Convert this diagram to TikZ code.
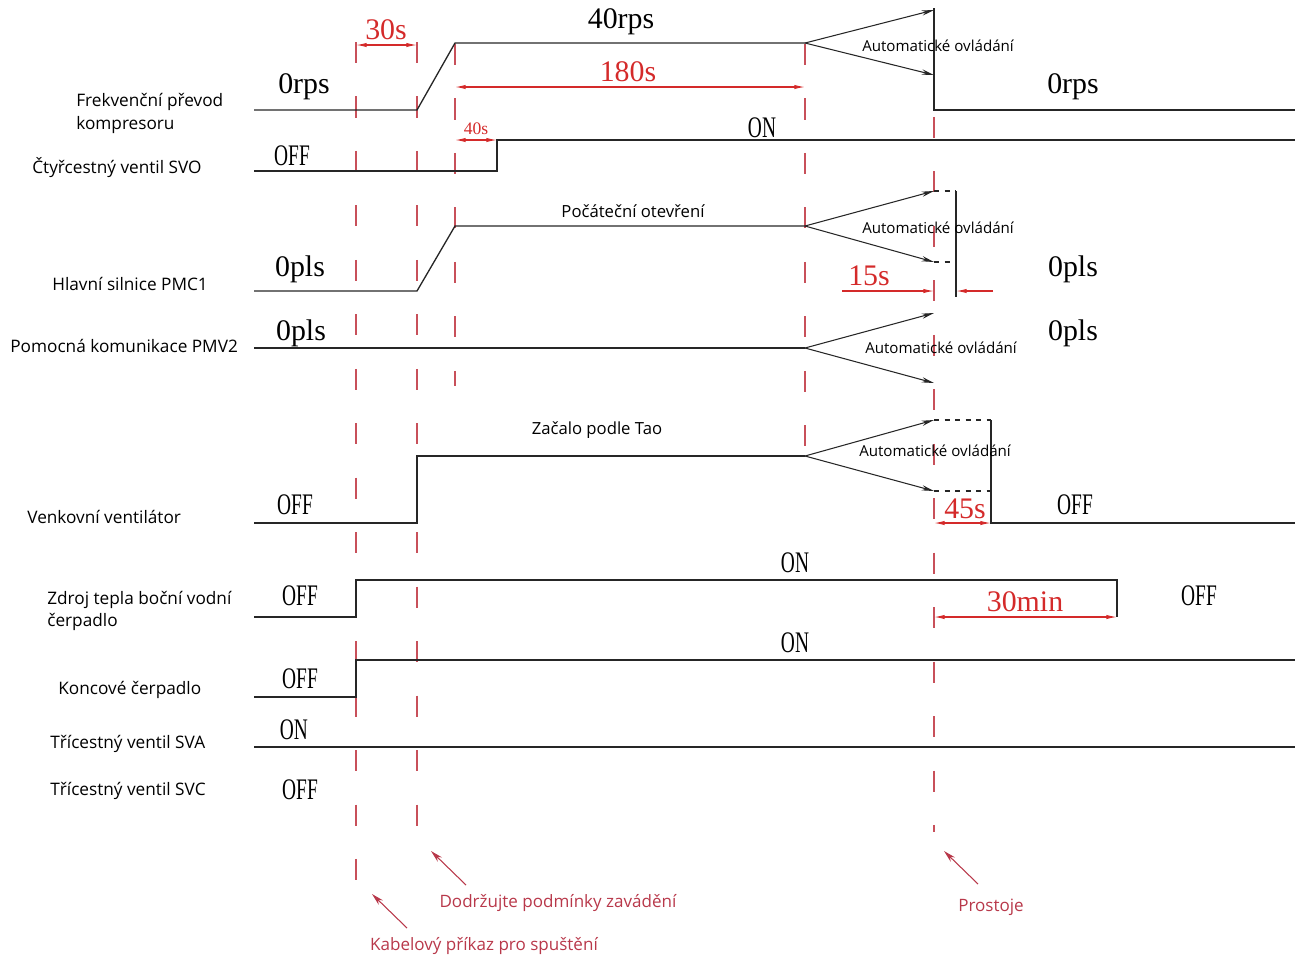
\documentclass[tikz,border=0pt]{standalone}
\usepackage{fontspec}
\setmainfont{Liberation Serif}
\newfontfamily\labfont{Open Sans}
\usetikzlibrary{arrows.meta}
\definecolor{guidered}{HTML}{C8505A}
\definecolor{dimred}{HTML}{D42A2A}
\definecolor{annred}{HTML}{B8384A}
\newcommand\cp[1]{\scalebox{0.65}[1]{#1}}
\begin{document}
\begin{tikzpicture}[x=0.02cm,y=-0.02cm,
  sig/.style={line width=0.75pt, black!85},
  guide/.style={guidered, line width=0.6pt, dash pattern=on 12pt off 19pt},
  dimarr/.style={dimred, line width=0.6pt, {Latex[length=6pt,width=2.4pt]}-{Latex[length=6pt,width=2.4pt]}},
  dimone/.style={dimred, line width=0.6pt, -{Latex[length=6pt,width=2.4pt]}},
  autoarr/.style={black!85, line width=0.6pt, -{Stealth[length=7pt,width=3pt]}},
  dashbox/.style={black!85, line width=0.6pt, dashed},
  lbl/.style={font=\labfont\fontsize{9.8}{13}\selectfont, align=left, anchor=west, inner sep=0pt},
  val/.style={font=\fontsize{17}{19}\selectfont, inner sep=0pt},
  dimtxt/.style={val, text=dimred},
  autotxt/.style={font=\labfont\fontsize{8.6}{10}\selectfont, inner sep=0pt},
  plaintxt/.style={font=\labfont\fontsize{9.5}{11}\selectfont, inner sep=0pt},
  notetxt/.style={font=\labfont\fontsize{9.7}{12}\selectfont, text=annred, inner sep=0pt},
  notearr/.style={annred, line width=0.6pt, -{Stealth[length=7pt,width=3.5pt]}}
]
\useasboundingbox (0,0) rectangle (1295,958);

% ---- guide (dashed) lines ----
\draw[guide] (356,42) -- (356,892);
\draw[guide] (417,42) -- (417,835);
\draw[guide] (455,44) -- (455,386);
\draw[guide] (805,44) -- (805,458);
\draw[guide] (934,8) -- (934,832);

% ---- left labels ----
\node[lbl] (l1) at (76,113.5) {Frekvenční převod\\kompresoru};
\node[lbl] (l2) at (32,168) {Čtyřcestný ventil SVO};
\node[lbl] (l3) at (52,284) {Hlavní silnice PMC1};
\node[lbl] (l4) at (10,346) {Pomocná komunikace PMV2};
\node[lbl] (l5) at (27,517) {Venkovní ventilátor};
\node[lbl] (l6) at (47,611) {Zdroj tepla boční vodní\\čerpadlo};
\node[lbl] (l7) at (58,690) {Koncové čerpadlo};
\node[lbl] (l8) at (50,744) {Třícestný ventil SVA};
\node[lbl] (l9) at (50,791) {Třícestný ventil SVC};

% ---- 1: compressor ----
\draw[sig] (254,110) -- (417,110) -- (455,43) -- (805,43);
\draw[autoarr] (805,43) -- (934,10);
\draw[autoarr] (805,43) -- (934,75);
\draw[sig] (934,8) -- (934,110) -- (1295,110);
\node[val] (v1a) at (304,87) {0rps};
\node[val] (v1b) at (621,22) {40rps};
\node[val] (v1c) at (1073,87) {0rps};
\node[autotxt] (a1) at (938,46) {Automatické ovládání};
\draw[dimarr] (356,45) -- (417,45);
\node[dimtxt] (d30) at (386,30) {30s};
\draw[dimarr] (455,87) -- (805,87);
\node[dimtxt] (d180) at (628,72) {180s};

% ---- 2: four-way valve ----
\draw[sig] (254,171) -- (497,171) -- (497,140) -- (1295,140);
\node[val] (v2a) at (292,156) {\cp{OFF}};
\node[val] (v2b) at (762,128) {\cp{ON}};
\draw[dimarr] (455,140) -- (497,140);
\node[val, text=dimred, font=\fontsize{10}{12}\selectfont] (d40) at (476,129) {40s};

% ---- 3: PMC1 ----
\draw[sig] (254,291) -- (417,291) -- (455,226) -- (805,226);
\draw[autoarr] (805,226) -- (934,191);
\draw[autoarr] (805,226) -- (934,262);
\draw[dashbox] (934,191) -- (956,191);
\draw[dashbox] (934,262) -- (956,262);
\draw[sig, line width=0.6pt] (956,191) -- (956,297);
\node[val] (v3a) at (300,269) {0pls};
\node[plaintxt] (t3) at (633,211) {Počáteční otevření};
\node[autotxt] (a3) at (938,228) {Automatické ovládání};
\node[val] (v3b) at (1073,269) {0pls};
\draw[dimone] (842,291) -- (934,291);
\draw[dimone] (993,291) -- (956,291);
\node[dimtxt] (d15) at (869,276) {15s};

% ---- 4: PMV2 ----
\draw[sig] (254,348) -- (805,348);
\draw[autoarr] (805,348) -- (934,313);
\draw[autoarr] (805,348) -- (934,383);
\node[val] (v4a) at (301,333) {0pls};
\node[autotxt] (a4) at (941,348) {Automatické ovládání};
\node[val] (v4b) at (1073,333) {0pls};

% ---- 5: outdoor fan ----
\draw[sig] (254,523) -- (417,523) -- (417,456) -- (805,456);
\draw[autoarr] (805,456) -- (934,420);
\draw[autoarr] (805,456) -- (934,491);
\draw[dashbox] (934,420) -- (991,420);
\draw[dashbox] (934,491) -- (991,491);
\draw[sig] (991,420) -- (991,523) -- (1295,523);
\node[val] (v5a) at (295,505) {\cp{OFF}};
\node[plaintxt] (t5) at (597,430) {Začalo podle Tao};
\node[autotxt] (a5) at (935,451) {Automatické ovládání};
\node[val] (v5b) at (1075,505) {\cp{OFF}};
\draw[dimarr] (934,523) -- (991,523);
\node[dimtxt] (d45) at (965,509) {45s};

% ---- 6: heat source side pump ----
\draw[sig] (254,617) -- (356,617) -- (356,580) -- (1117,580) -- (1117,617);
\node[val] (v6a) at (300,596) {\cp{OFF}};
\node[val] (v6b) at (795,563) {\cp{ON}};
\node[val] (v6c) at (1199,596) {\cp{OFF}};
\draw[dimarr] (934,617) -- (1117,617);
\node[dimtxt] (d30m) at (1025,602) {30min};

% ---- 7: terminal pump ----
\draw[sig] (254,697) -- (356,697) -- (356,660) -- (1295,660);
\node[val] (v7a) at (300,679) {\cp{OFF}};
\node[val] (v7b) at (795,643) {\cp{ON}};

% ---- 8: SVA ----
\draw[sig] (254,747) -- (1295,747);
\node[val] (v8a) at (294,730) {\cp{ON}};

% ---- 9: SVC ----
\node[val] (v9a) at (300,790) {\cp{OFF}};

% ---- annotations ----
\node[notetxt] (n1) at (484,946) {Kabelový příkaz pro spuštění};
\node[notetxt] (n2) at (558,903) {Dodržujte podmínky zavádění};
\node[notetxt] (n3) at (991,907) {Prostoje};
\coordinate (p1) at (372,894);
\coordinate (p2) at (431,851);
\coordinate (p3) at (944,851);
\draw[notearr] (407,928) -- (p1);
\draw[notearr] (466,885) -- (p2);
\draw[notearr] (978,884) -- (p3);
\end{tikzpicture}
\end{document}
